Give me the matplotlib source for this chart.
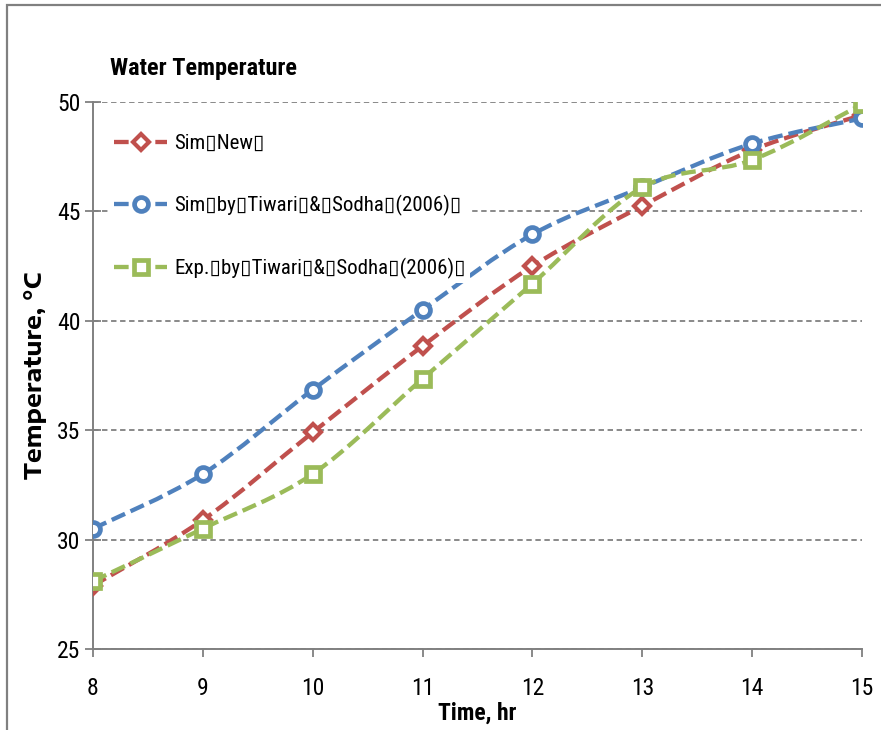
import matplotlib
matplotlib.use("Agg")
import matplotlib.pyplot as plt
from matplotlib.path import Path
from matplotlib.patches import PathPatch, Rectangle
from matplotlib.lines import Line2D
import numpy as np

# ---- data ----
hours = [8, 9, 10, 11, 12, 13, 14, 15]
sim_new = [27.9, 30.9, 34.9, 38.85, 42.5, 45.25, 47.8, 49.4]
sim_tiwari = [30.5, 33.0, 36.85, 40.5, 43.95, 46.1, 48.1, 49.25]
exp_tiwari = [28.1, 30.5, 33.0, 37.35, 41.7, 46.1, 47.35, 49.9]
labels = ["Sim\u25afNew\u25af",
          "Sim\u25afby\u25afTiwari\u25af&\u25afSodha\u25af(2006)\u25af",
          "Exp.\u25afby\u25afTiwari\u25af&\u25afSodha\u25af(2006)\u25af"]
yticks = [25, 30, 35, 40, 45, 50]
xticks = [8, 9, 10, 11, 12, 13, 14, 15]

plt.rcParams['font.family'] = ['Roboto Condensed', 'DejaVu Sans']

W, H = 881, 730
fig = plt.figure(figsize=(W / 100, H / 100), dpi=100)
ax = fig.add_axes([93 / W, 1 - 649 / H, (862 - 93) / W, (649 - 102) / H])

# outer frame
fig.patches.append(Rectangle((7 / W, -0.1), 1.2, 1 - 5 / H + 0.1, transform=fig.transFigure,
                             fill=False, edgecolor='#808080', linewidth=1.6))


def smooth_path(xs, ys):
    P = np.column_stack([xs, ys]).astype(float)
    n = len(P)
    verts = [P[0]]
    codes = [Path.MOVETO]
    for i in range(n - 1):
        p0 = P[i - 1] if i > 0 else P[i]
        p1 = P[i]
        p2 = P[i + 1]
        p3 = P[i + 2] if i + 2 < n else P[i + 1]
        c1 = p1 + (p2 - p0) / 6.0
        c2 = p2 - (p3 - p1) / 6.0
        verts += [c1, c2, p2]
        codes += [Path.CURVE4] * 3
    return Path(verts, codes)


series = [
    (sim_new, '#C0504D', 'D', 8.5, 3.0),
    (sim_tiwari, '#4F81BD', 'o', 10, 3.4),
    (exp_tiwari, '#9BBB59', 's', 10, 3.4),
]
dash = (0, (3.4, 1.4))
lw = 3.1
handles = []
for (ys, col, mk, ms, mew), lab in zip(series, labels):
    patch = PathPatch(smooth_path(hours, ys), fill=False, edgecolor=col,
                      linewidth=lw, linestyle=dash, capstyle='butt', zorder=3)
    ax.add_patch(patch)
    ax.plot(hours, ys, linestyle='none', marker=mk, markersize=ms,
            markerfacecolor='white', markeredgecolor=col, markeredgewidth=mew, zorder=4)
    handles.append(Line2D([], [], color=col, linewidth=lw, linestyle=dash, marker=mk,
                          markersize=ms, markerfacecolor='white', markeredgecolor=col,
                          markeredgewidth=mew))

ax.set_xlim(8, 15)
ax.set_ylim(25, 50)
ax.set_xticks(xticks)
ax.set_yticks(yticks)
ax.tick_params(axis='both', labelsize=17, color='#808080', width=1.3)
ax.tick_params(axis='y', direction='inout', length=12, pad=3)
ax.tick_params(axis='x', direction='out', length=6, pad=14)
for s in ['top', 'right']:
    ax.spines[s].set_visible(False)
for s in ['left', 'bottom']:
    ax.spines[s].set_color('#808080')
    ax.spines[s].set_linewidth(1.4)
ax.yaxis.grid(True, linestyle=(0, (3, 2)), color='#808080', linewidth=1.3, zorder=0)
ax.set_axisbelow(True)

ax.set_xlabel('Time, hr', fontsize=17, fontweight='bold')
ax.xaxis.set_label_coords(0.5, (649 - 713) / (649 - 102), transform=ax.transAxes)
ax.xaxis.label.set_va('center')
ax.set_ylabel('Temperature, \u00b0C', fontsize=16.8, fontweight='bold',
              family=['Encode Sans Expanded', 'DejaVu Sans'])
ax.yaxis.set_label_coords((35 - 93) / (862 - 93), 0.5)
ax.yaxis.label.set_va('center')

fig.text(110 / W, 1 - 68 / H, 'Water Temperature', fontsize=17.5, fontweight='bold',
         ha='left', va='center')

leg = ax.legend(handles, labels, loc='upper left',
                bbox_to_anchor=(110 / W, 1 - 130 / H), bbox_transform=fig.transFigure,
                frameon=True, facecolor='white', edgecolor='none', framealpha=1,
                fontsize=15, labelspacing=2.0, handlelength=2.55, handletextpad=0.35,
                borderpad=0.2, borderaxespad=0)
leg.get_frame().set_linewidth(0)
leg.set_zorder(5)

fig.savefig('out.png', dpi=100)
